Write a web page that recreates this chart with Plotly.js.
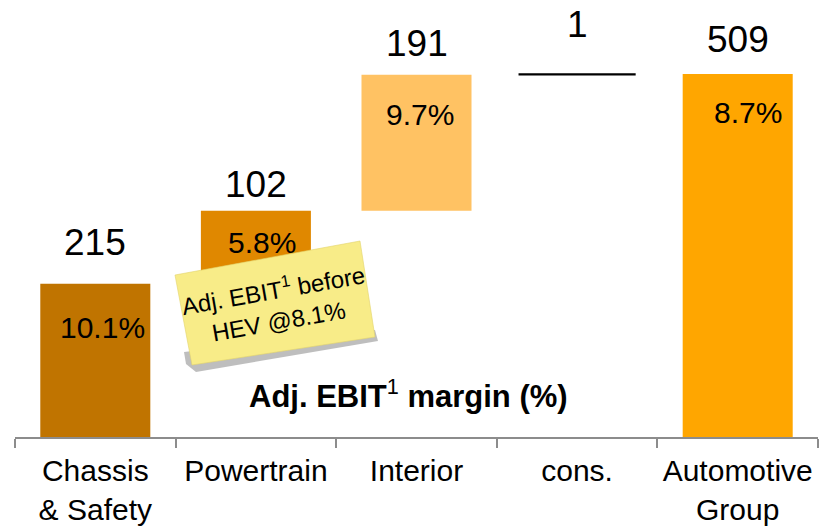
<!DOCTYPE html>
<html><head><meta charset="utf-8">
<script src="https://cdn.plot.ly/plotly-3.0.1.min.js"></script>
<style>html,body{margin:0;padding:0;background:#fff}</style>
</head><body><div id="chart" style="width:821px;height:527px"></div>
<script>
// ---- data ----
const categories = ['Chassis<br>& Safety', 'Powertrain', 'Interior', 'cons.', 'Automotive<br>Group'];
const ebit = [215, 102, 191, 1, 509];
const isTotal = [false, false, false, false, true];
const marginLabels = ['10.1%', '5.8%', '9.7%', '', '8.7%'];
const noteText = 'Adj. EBIT<sup>1</sup> before<br>HEV @8.1%';
const marginTitle = '<b>Adj. EBIT</b><sup>1</sup><b> margin (%)</b>';

// ---- waterfall bases ----
let run = 0; const base = []; const tops = [];
ebit.forEach((v, i) => {
  if (isTotal[i]) { base.push(0); tops.push(v); }
  else { base.push(run); run += v; tops.push(run); }
});

// ---- styles ----
const colors = ['#C07400', '#E08800', '#FFC263', '#000000', '#FFA600'];
const barWidths = [0.685, 0.685, 0.685, 0.72, 0.685];
const valueShift = [41, 26, 31, 49, 34];
const pctDrop = [44, 32, 40, 0, 39];
const pctX = [7, 6, 3, 0, 10];
const FONT = 'Liberation Sans, Arial, sans-serif';

const M = {l: 15, r: 3, t: 9, b: 90};
const W = 821, H = 527;
const pw = W - M.l - M.r, ph = H - M.t - M.b;
const px = x => (x - M.l) / pw;
const py = y => (H - M.b - y) / ph;
const poly = pts => 'M ' + pts.map(p => px(p[0]).toFixed(5) + ' ' + py(p[1]).toFixed(5)).join(' L ') + ' Z';

const trace = {
  type: 'bar',
  x: categories,
  y: ebit,
  base: base,
  width: barWidths,
  marker: {color: colors, line: {color: colors, width: [0, 0, 0, 1.5, 0]}},
  hoverinfo: 'skip'
};

const annotations = [];
categories.forEach((c, i) => {
  annotations.push({x: c, y: tops[i], xref: 'x', yref: 'y', text: String(ebit[i]), showarrow: false,
    yanchor: 'middle', xanchor: 'center', yshift: valueShift[i], font: {family: FONT, size: 37, color: '#000'}});
  if (marginLabels[i]) annotations.push({x: c, y: tops[i], xref: 'x', yref: 'y', text: marginLabels[i], showarrow: false,
    yanchor: 'middle', xanchor: 'center', yshift: -pctDrop[i], xshift: pctX[i], font: {family: FONT, size: 30, color: '#000'}});
});
annotations.push({xref: 'paper', yref: 'paper', x: px(408), y: py(394), text: marginTitle, showarrow: false,
  xanchor: 'center', yanchor: 'middle', font: {family: FONT, size: 31, color: '#000'}});
annotations.push({xref: 'paper', yref: 'paper', x: px(275), y: py(304), text: noteText, showarrow: false,
  xanchor: 'center', yanchor: 'middle', textangle: -10, font: {family: FONT, size: 24, color: '#000'}});

const shapes = [
  {type: 'path', xref: 'paper', yref: 'paper', layer: 'above', line: {width: 0},
   fillcolor: 'rgba(70,70,70,0.35)', path: poly([[184, 352], [375, 330], [378, 341], [196, 372], [186, 364]])},
  {type: 'path', xref: 'paper', yref: 'paper', layer: 'above', line: {width: 0.6, color: '#E2D46C'},
   fillcolor: '#F8EC88', path: poly([[175, 275], [360, 241], [375, 337], [192, 365]])}
];

const layout = {
  width: W, height: H, margin: M,
  paper_bgcolor: '#fff', plot_bgcolor: '#fff',
  showlegend: false, bargap: 0.315,
  xaxis: {type: 'category', range: [-0.5, 4.5], tickson: 'boundaries', ticks: 'outside', ticklen: 9,
    tickwidth: 2, tickcolor: '#8c8c8c', showline: true, linecolor: '#8c8c8c', linewidth: 2,
    ticklabelstandoff: 6,
    showgrid: false, zeroline: false, tickfont: {family: FONT, size: 30, color: '#000'}, fixedrange: true},
  yaxis: {range: [0, 600], visible: false, fixedrange: true},
  annotations: annotations,
  shapes: shapes
};

Plotly.newPlot('chart', [trace], layout, {displayModeBar: false, staticPlot: true});
</script></body></html>
